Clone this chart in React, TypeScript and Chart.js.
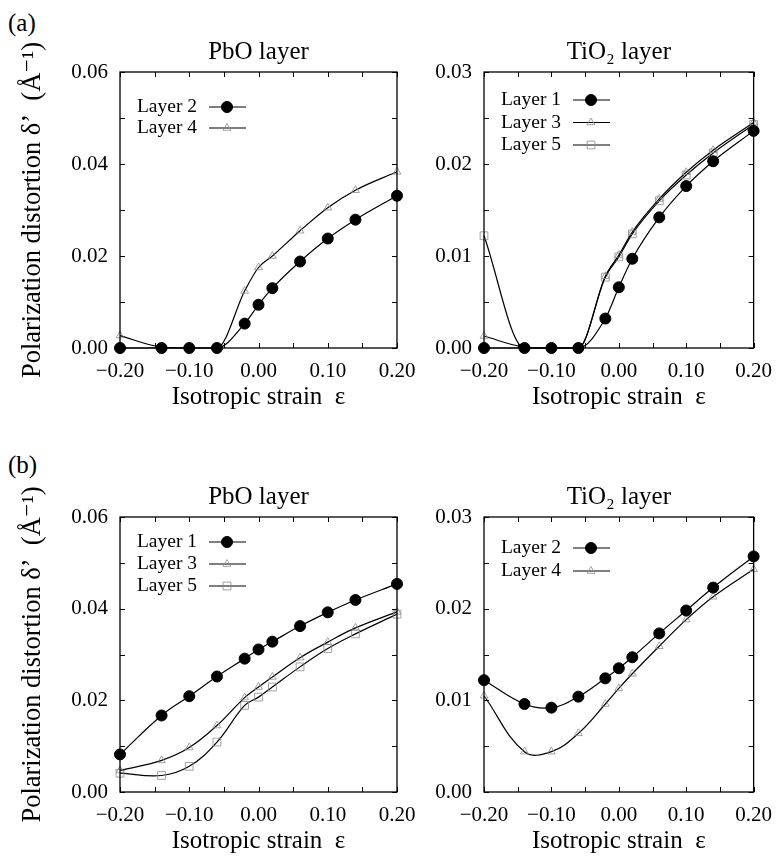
import React, { useEffect, useRef } from 'react';
import { Chart, registerables } from 'chart.js';

Chart.register(...registerables);

// ---------------- DATA ----------------
const strain = [-0.2, -0.14, -0.1, -0.06, -0.02, 0.0, 0.02, 0.06, 0.1, 0.14, 0.2];

// (a) PbO layer
const aPbOLayer2 = [0, 0, 0, 0, 0.0053, 0.0094, 0.013, 0.0188, 0.0238, 0.0279, 0.0331];
const aPbOLayer4 = [0.0027, 0.0002, 0, 0, 0.0124, 0.0175, 0.02, 0.0255, 0.0305, 0.0343, 0.0383];
// (a) TiO2 layer
const aTiO2Layer1 = [0, 0, 0, 0, 0.0032, 0.0066, 0.0097, 0.0142, 0.0176, 0.0203, 0.0236];
const aTiO2Layer3 = [0.0013, 0.0001, 0, 0, 0.0078, 0.0101, 0.0126, 0.0162, 0.0191, 0.0215, 0.0245];
const aTiO2Layer5 = [0.0122, 0, 0, 0, 0.0077, 0.0099, 0.0124, 0.016, 0.0188, 0.0212, 0.0243];
// (b) PbO layer
const bPbOLayer1 = [0.0082, 0.0167, 0.0209, 0.0252, 0.0291, 0.0311, 0.0328, 0.0362, 0.0392, 0.0419, 0.0454];
const bPbOLayer3 = [0.0047, 0.0069, 0.0097, 0.0145, 0.0206, 0.0229, 0.0251, 0.0293, 0.0327, 0.0358, 0.0393];
const bPbOLayer5 = [0.0041, 0.0036, 0.0056, 0.0109, 0.0189, 0.0207, 0.0229, 0.0273, 0.0313, 0.0345, 0.0388];
// (b) TiO2 layer
const bTiO2Layer2 = [0.0122, 0.0096, 0.0092, 0.0104, 0.0124, 0.0135, 0.0147, 0.0173, 0.0198, 0.0223, 0.0257];
const bTiO2Layer4 = [0.0105, 0.0044, 0.0044, 0.0064, 0.0096, 0.0113, 0.0129, 0.0159, 0.0188, 0.0213, 0.0243];

const xMin = -0.2;
const xMax = 0.2;
const xTickStep = 0.05;
const xLabelStep = 0.1;
const xTitle = 'Isotropic strain  ε';
const yTitle = 'Polarization distortion δ’  (Å⁻¹)';

// ---------------- STYLE ----------------
const FONT = "'Liberation Serif', 'Times New Roman', 'DejaVu Serif', serif";

type Marker = 'circle' | 'triangle' | 'square';
interface Series {
  label: string;
  values: number[];
  marker: Marker;
}

const markerStyle: Record<Marker, any> = {
  circle: { pointStyle: 'circle', pointRadius: 5.5, pointBackgroundColor: '#000', pointBorderColor: '#000', pointBorderWidth: 1 },
  triangle: { pointStyle: 'triangle', pointRadius: 4.5, pointBackgroundColor: 'rgba(0,0,0,0)', pointBorderColor: '#8a8a8a', pointBorderWidth: 0.8 },
  square: { pointStyle: 'rect', pointRadius: 5.5, pointBackgroundColor: 'rgba(0,0,0,0)', pointBorderColor: '#8a8a8a', pointBorderWidth: 0.8 },
};

function drawMarker(ctx: CanvasRenderingContext2D, m: Marker, x: number, y: number) {
  const st = markerStyle[m];
  const r = st.pointRadius;
  ctx.save();
  ctx.lineWidth = st.pointBorderWidth;
  ctx.strokeStyle = st.pointBorderColor;
  ctx.fillStyle = st.pointBackgroundColor;
  ctx.beginPath();
  if (m === 'circle') {
    ctx.arc(x, y, r, 0, Math.PI * 2);
  } else if (m === 'triangle') {
    const a = Math.PI / 2;
    for (let i = 0; i < 3; i++) {
      const ang = -a + (i * 2 * Math.PI) / 3;
      const px = x + Math.cos(ang) * r;
      const py = y + Math.sin(ang) * r;
      if (i === 0) ctx.moveTo(px, py);
      else ctx.lineTo(px, py);
    }
    ctx.closePath();
  } else {
    const s = Math.SQRT1_2 * r;
    ctx.rect(x - s, y - s, 2 * s, 2 * s);
  }
  ctx.fill();
  ctx.stroke();
  ctx.restore();
}

interface PanelProps {
  left: number;
  top: number;
  width: number;
  height: number;
  title: string;
  yMax: number;
  yStep: number;
  yLabelStep: number;
  showYTitle: boolean;
  yAxisWidth: number;
  rightPad: number;
  series: Series[];
  smooth: 'monotone' | 'default';
  legendTop: number;
  legendGap: number;
}

const isMultiple = (v: number, step: number) => Math.abs(v / step - Math.round(v / step)) < 1e-6;

function Panel(p: PanelProps) {
  const ref = useRef<HTMLCanvasElement>(null);
  useEffect(() => {
    const canvas = ref.current;
    if (!canvas) return;

    const framePlugin = {
      id: 'frame' + p.top + '_' + p.left,
      afterDraw(chart: any) {
        const ctx: CanvasRenderingContext2D = chart.ctx;
        const a = chart.chartArea;
        const xs = chart.scales.x;
        const ys = chart.scales.y;
        const tl = 5;
        ctx.save();
        ctx.strokeStyle = '#000';
        ctx.lineWidth = 1;
        ctx.beginPath();
        xs.ticks.forEach((t: any) => {
          const px = Math.round(xs.getPixelForValue(t.value)) + 0.5;
          ctx.moveTo(px, a.bottom);
          ctx.lineTo(px, a.bottom - tl);
          ctx.moveTo(px, a.top);
          ctx.lineTo(px, a.top + tl);
        });
        ys.ticks.forEach((t: any) => {
          const py = Math.round(ys.getPixelForValue(t.value)) + 0.5;
          ctx.moveTo(a.left, py);
          ctx.lineTo(a.left + tl, py);
          ctx.moveTo(a.right, py);
          ctx.lineTo(a.right - tl, py);
        });
        ctx.stroke();
        ctx.lineWidth = 1.3;
        ctx.strokeRect(a.left, a.top, a.right - a.left, a.bottom - a.top);

        // legend
        ctx.font = `19.5px ${FONT}`;
        ctx.fillStyle = '#000';
        ctx.textAlign = 'right';
        ctx.textBaseline = 'middle';
        p.series.forEach((s, i) => {
          const y = a.top + p.legendTop + i * p.legendGap;
          ctx.fillText(s.label, a.left + 77, y);
          ctx.lineWidth = 1.2;
          ctx.strokeStyle = '#000';
          ctx.beginPath();
          ctx.moveTo(a.left + 89, y);
          ctx.lineTo(a.left + 126, y);
          ctx.stroke();
          drawMarker(ctx, s.marker, a.left + 107, y);
        });
        ctx.restore();
      },
    };

    const datasets = p.series.map((s) => ({
      label: s.label,
      data: strain.map((x, i) => ({ x, y: s.values[i] })),
      borderColor: '#000',
      borderWidth: 1.2,
      fill: false,
      clip: false as any,
      tension: 0.4,
      cubicInterpolationMode: p.smooth,
      ...markerStyle[s.marker],
    }));

    const chart = new Chart(canvas, {
      type: 'line',
      data: { datasets },
      options: {
        animation: false,
        responsive: false,
        maintainAspectRatio: false,
        events: [],
        layout: { padding: { left: 0, right: p.rightPad, top: 0, bottom: 0 } },
        plugins: {
          legend: { display: false },
          tooltip: { enabled: false },
          title: { display: false },
        },
        scales: {
          x: {
            type: 'linear',
            position: 'bottom',
            min: xMin,
            max: xMax,
            ticks: {
              stepSize: xTickStep,
              autoSkip: false,
              maxRotation: 0,
              color: '#000',
              padding: 11,
              font: { family: FONT, size: 21 },
              callback: (v: any) => {
                const n = Number(v);
                if (!isMultiple(n, xLabelStep)) return '';
                return n < -1e-9 ? '\u2212' + Math.abs(n).toFixed(2) : Math.abs(n).toFixed(2);
              },
            },
            grid: { display: false, drawTicks: false },
            border: { display: false },
            title: {
              display: true,
              text: xTitle,
              color: '#000',
              font: { family: FONT, size: 25 },
              padding: { top: 0, bottom: 0 },
            },
            afterFit: (s: any) => {
              s.height = 64;
            },
          } as any,
          xTop: {
            type: 'linear',
            position: 'top',
            min: xMin,
            max: xMax,
            ticks: { display: false },
            grid: { display: false, drawTicks: false },
            border: { display: false },
            title: {
              display: true,
              text: p.title,
              color: '#000',
              font: { family: FONT, size: 25 },
              padding: { top: 5, bottom: 0 },
            },
            afterFit: (s: any) => {
              s.height = 40;
            },
          } as any,
          y: {
            type: 'linear',
            position: 'left',
            min: 0,
            max: p.yMax,
            ticks: {
              stepSize: p.yStep,
              autoSkip: false,
              color: '#000',
              padding: 12,
              font: { family: FONT, size: 21 },
              callback: (v: any) => {
                const n = Number(v);
                if (!isMultiple(n, p.yLabelStep)) return '';
                return Math.abs(n).toFixed(2);
              },
            },
            grid: { display: false, drawTicks: false },
            border: { display: false },
            title: {
              display: p.showYTitle,
              text: yTitle,
              color: '#000',
              font: { family: FONT, size: 26.5 },
              padding: { top: 17, bottom: 0 },
            },
            afterFit: (s: any) => {
              s.width = p.yAxisWidth;
            },
          } as any,
        },
      },
      plugins: [framePlugin],
    });
    return () => chart.destroy();
  }, []);
  return (
    <canvas
      ref={ref}
      width={p.width}
      height={p.height}
      style={{ position: 'absolute', left: p.left, top: p.top, width: p.width, height: p.height }}
    />
  );
}

const labelStyle: React.CSSProperties = {
  position: 'absolute',
  left: 8,
  fontFamily: FONT,
  fontSize: 25,
  lineHeight: '28px',
  color: '#000',
};

export default function App() {
  return (
    <div style={{ position: 'absolute', left: 0, top: 0, width: 783, height: 859, background: '#fff', overflow: 'hidden' }}>
      <div style={{ ...labelStyle, top: 9 }}>(a)</div>
      <div style={{ ...labelStyle, top: 451 }}>(b)</div>
      <Panel
        left={0}
        top={32}
        width={430}
        height={380}
        title="PbO layer"
        yMax={0.06}
        yStep={0.01}
        yLabelStep={0.02}
        showYTitle={true}
        yAxisWidth={120}
        rightPad={33}
        smooth="monotone"
        legendTop={35}
        legendGap={21}
        series={[
          { label: 'Layer 2', values: aPbOLayer2, marker: 'circle' },
          { label: 'Layer 4', values: aPbOLayer4, marker: 'triangle' },
        ]}
      />
      <Panel
        left={425}
        top={32}
        width={358}
        height={380}
        title="TiO₂ layer"
        yMax={0.03}
        yStep={0.005}
        yLabelStep={0.01}
        showYTitle={false}
        yAxisWidth={59}
        rightPad={23}
        smooth="monotone"
        legendTop={28}
        legendGap={22.5}
        series={[
          { label: 'Layer 1', values: aTiO2Layer1, marker: 'circle' },
          { label: 'Layer 3', values: aTiO2Layer3, marker: 'triangle' },
          { label: 'Layer 5', values: aTiO2Layer5, marker: 'square' },
        ]}
      />
      <Panel
        left={0}
        top={477}
        width={430}
        height={379}
        title="PbO layer"
        yMax={0.06}
        yStep={0.01}
        yLabelStep={0.02}
        showYTitle={true}
        yAxisWidth={120}
        rightPad={33}
        smooth="default"
        legendTop={25}
        legendGap={22}
        series={[
          { label: 'Layer 1', values: bPbOLayer1, marker: 'circle' },
          { label: 'Layer 3', values: bPbOLayer3, marker: 'triangle' },
          { label: 'Layer 5', values: bPbOLayer5, marker: 'square' },
        ]}
      />
      <Panel
        left={425}
        top={477}
        width={358}
        height={379}
        title="TiO₂ layer"
        yMax={0.03}
        yStep={0.005}
        yLabelStep={0.01}
        showYTitle={false}
        yAxisWidth={59}
        rightPad={23}
        smooth="default"
        legendTop={31}
        legendGap={23}
        series={[
          { label: 'Layer 2', values: bTiO2Layer2, marker: 'circle' },
          { label: 'Layer 4', values: bTiO2Layer4, marker: 'triangle' },
        ]}
      />
    </div>
  );
}
